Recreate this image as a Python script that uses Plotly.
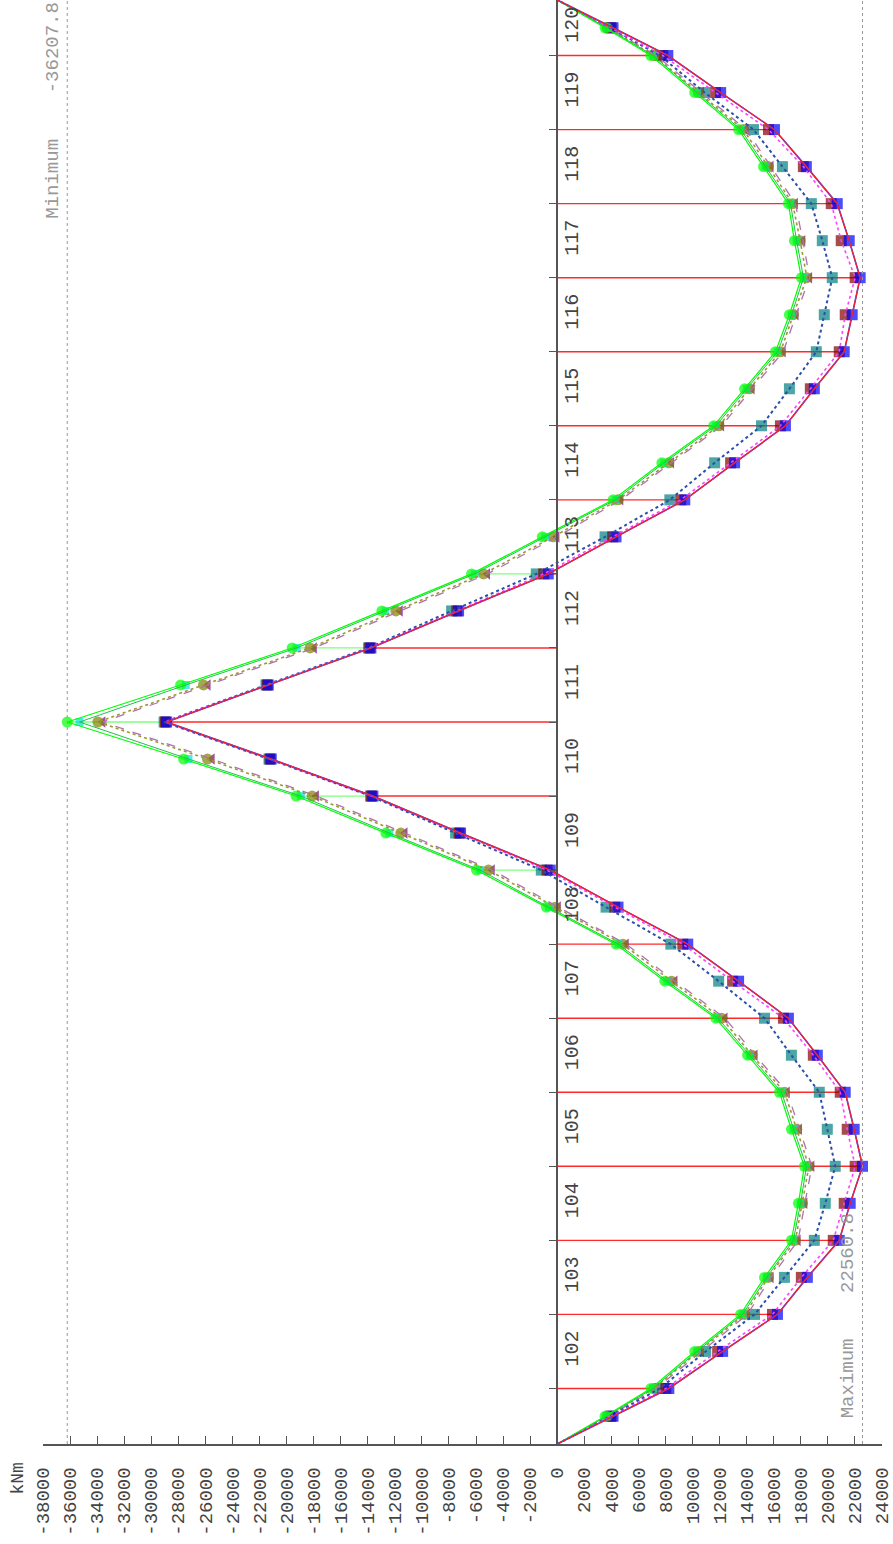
import numpy as np
import plotly.graph_objects as go

# ---------------- data ----------------
elements = list(range(101, 121))
elem_len = [7.5] + [10.0] * 18 + [7.5]          # element lengths (m)

moment_ticks = list(range(-38000, 24001, 2000))

# envelopes (kNm) at element ends and mid-points (41 stations)
env_green = [0, 3535, 6922, 10162, 13549, 15317, 17305, 17820, 18262, 17305, 16421, 14065, 11708, 7953, 4345,
             -800, -5965, -12666, -19293, -27614, -36207.8, -27835, -19588, -12960, -6333, -1105, 4124, 7732,
             11561, 13844, 16127, 17158, 18041, 17526, 17084, 15243, 13402, 10162, 6922, 3535, 0]
env_cyan = [0, 3650, 7080, 10330, 13700, 15480, 17450, 17980, 18420, 17470, 16580, 14230, 11880, 8130, 4520,
            -620, -5700, -12400, -18950, -27250, -35300, -27450, -19250, -12700, -6100, -900, 4300, 7900,
            11730, 14000, 16290, 17320, 18200, 17690, 17240, 15400, 13560, 10320, 7080, 3650, 0]
env_olive = [0, 3700, 7150, 10450, 13850, 15600, 17600, 18120, 18600, 17700, 16800, 14400, 12150, 8450, 4850,
             -150, -5081, -11561, -18115, -25847, -33947, -26141, -18262, -11929, -5449, -295, 4500, 8250,
             11950, 14200, 16500, 17450, 18450, 17950, 17400, 15600, 13750, 10450, 7150, 3700, 0]
env_purple = [0, 3800, 7300, 10650, 14050, 15800, 17800, 18300, 18820, 17900, 17000, 14620, 12400, 8700, 5100,
              80, -4800, -11250, -17800, -25500, -33579, -25800, -17950, -11600, -5150, -20, 4700, 8450,
              12150, 14400, 16700, 17650, 18650, 18150, 17600, 15800, 13950, 10650, 7300, 3800, 0]
env_teal = [0, 3900, 7585, 10972, 14580, 16789, 18999, 19808, 20545, 19956, 19366, 17305, 15317, 11929, 8395,
            3608, -1178, -7511, -13800, -21300, -29050, -21520, -13950, -7805, -1546, 3535, 8321, 11634,
            15096, 17158, 19146, 19735, 20324, 19588, 18778, 16642, 14506, 10898, 7585, 3900, 0]
env_darkred = [0, 3980, 8026, 11855, 15906, 18041, 20398, 21208, 22017, 21429, 20913, 18925, 16716, 12960, 9278,
               4250, -750, -7250, -13720, -21220, -28960, -21430, -13860, -7420, -1000, 4100, 9131, 12813,
               16495, 18704, 20840, 21282, 22017, 20987, 20250, 18188, 15611, 11708, 7806, 3980, 0]
env_blue = [0, 4124, 8247, 12224, 16274, 18483, 20840, 21650, 22560.8, 21944, 21282, 19220, 17084, 13402, 9646,
            4492, -515, -7143, -13623, -21134, -28866, -21355, -13770, -7290, -663, 4345, 9426, 13107,
            16863, 18999, 21208, 21797, 22386, 21576, 20692, 18409, 16053, 12077, 8174, 4124, 0]

# ---------------- geometry ----------------
bounds = np.concatenate([[0.0], np.cumsum(elem_len)])
mids = (bounds[:-1] + bounds[1:]) / 2
pos = []
for i in range(len(elem_len)):
    pos += [bounds[i], mids[i]]
pos.append(bounds[-1])
n = len(pos)
inner = [i for i in range(2, n - 1, 2)]  # interior element ends

vmin = min(env_green)
vmax = max(env_blue)
xr = [-38000, 24000]
yr = [0, bounds[-1]]
FONT = "Liberation Mono"

fig = go.Figure()

# range bars at element ends: red from zero to maximum, green from maximum down to minimum
gx, gy, rx, ry = [], [], [], []
for i in inner:
    if env_green[i] < 0:
        gx += [min(env_blue[i], 0), env_green[i], None]; gy += [pos[i], pos[i], None]
    rx += [0, env_blue[i], None]; ry += [pos[i], pos[i], None]
fig.add_trace(go.Scatter(x=gx, y=gy, mode="lines", line=dict(color="#7CFF7C", width=1.3), hoverinfo="skip"))
fig.add_trace(go.Scatter(x=rx, y=ry, mode="lines", line=dict(color="#FF2A2A", width=1.4), hoverinfo="skip"))

def msize(s):
    return [0] + [s] * (n - 2) + [0]

# markers (drawn first)
marker_specs = [
    (env_teal, "square", "#008080", 11),
    (env_darkred, "square", "#800000", 11),
    (env_blue, "square", "#0000FF", 11),
    (env_purple, "triangle-left", "#800080", 10),
    (env_olive, "circle", "#808000", 11),
    (env_cyan, "square", "#00E0E0", 8),
    (env_green, "circle", "#00FF00", 11),
]
for vals, sym, col, s in marker_specs:
    fig.add_trace(go.Scatter(x=vals, y=pos, mode="markers",
                             marker=dict(symbol=sym, color=col, size=msize(s), line=dict(width=0)),
                             hoverinfo="skip"))

# lines (on top of the markers)
line_specs = [
    (env_purple, "#B070B0", "dash", 1.3),
    (env_olive, "#9A9A30", "dot", 1.6),
    (env_teal, "#2A4FA8", "dot", 2.0),
    (env_darkred, "#FF40FF", "dot", 1.6),
    (env_cyan, "#20C050", "solid", 1.0),
    (env_green, "#00FF00", "solid", 1.2),
    (env_blue, "#4040FF", "solid", 1.6),
    (env_blue, "#FF2020", "solid", 1.2),
]
for vals, col, dash, w in line_specs:
    fig.add_trace(go.Scatter(x=vals, y=pos, mode="lines", line=dict(color=col, dash=dash, width=w),
                             hoverinfo="skip"))

# invisible trace to activate the label axis
fig.add_trace(go.Scatter(x=[0], y=[mids[1]], yaxis="y2", mode="markers",
                         marker=dict(opacity=0), hoverinfo="skip"))

zero_frac = (0 - xr[0]) / (xr[1] - xr[0])

fig.update_layout(
    width=893, height=1544,
    margin=dict(l=43, r=11, t=0, b=100, autoexpand=False),
    paper_bgcolor="white", plot_bgcolor="white",
    showlegend=False,
    xaxis=dict(range=xr, tickvals=moment_ticks, ticktext=[str(v) for v in moment_ticks],
               tickangle=-90, ticks="inside", ticklen=8, tickcolor="#555", tickwidth=1.2,
               showline=True, linecolor="#555", linewidth=1.5, showgrid=False, zeroline=False,
               ticklabelstandoff=14, ticklabeloverflow="allow", automargin=False,
               tickfont=dict(family=FONT, size=19, color="#444")),
    yaxis=dict(range=yr, anchor="free", position=zero_frac, side="right",
               showline=True, linecolor="#555", linewidth=1.5, automargin=False,
               ticks="inside", ticklen=7, tickcolor="#555", tickvals=list(bounds[1:-1]),
               showticklabels=False, showgrid=False, zeroline=False),
    yaxis2=dict(range=yr, overlaying="y", anchor="free", position=zero_frac, side="right",
                tickvals=list(mids[1:]), ticktext=[str(e) for e in elements[1:]], automargin=False,
                tickangle=-90, ticks="", showline=False, showgrid=False, zeroline=False,
                tickfont=dict(family=FONT, size=20, color="#444")),
    shapes=[
        dict(type="line", xref="x", yref="paper", x0=vmin, x1=vmin, y0=0, y1=1,
             line=dict(color="#999", width=1, dash="dot")),
        dict(type="line", xref="x", yref="paper", x0=vmax, x1=vmax, y0=0, y1=1,
             line=dict(color="#999", width=1, dash="dot")),
    ],
    annotations=[
        dict(text=f"Minimum    {vmin:.1f}", x=vmin, xref="x", y=1, yref="paper",
             xanchor="right", yanchor="top", textangle=-90, showarrow=False, xshift=-2,
             font=dict(family=FONT, size=19, color="#999")),
        dict(text=f"Maximum    {vmax:.1f}", x=vmax, xref="x", y=3.2, yref="y",
             xanchor="right", yanchor="bottom", textangle=-90, showarrow=False, xshift=-2,
             font=dict(family=FONT, size=19, color="#999")),
        dict(text="kNm", x=-0.03, xref="paper", y=-0.024, yref="paper",
             xanchor="center", yanchor="middle", textangle=-90, showarrow=False,
             font=dict(family=FONT, size=18, color="#444")),
    ],
)

fig.write_html("out.html", config={"displayModeBar": False},
               post_script="document.body.style.margin='0px';")
